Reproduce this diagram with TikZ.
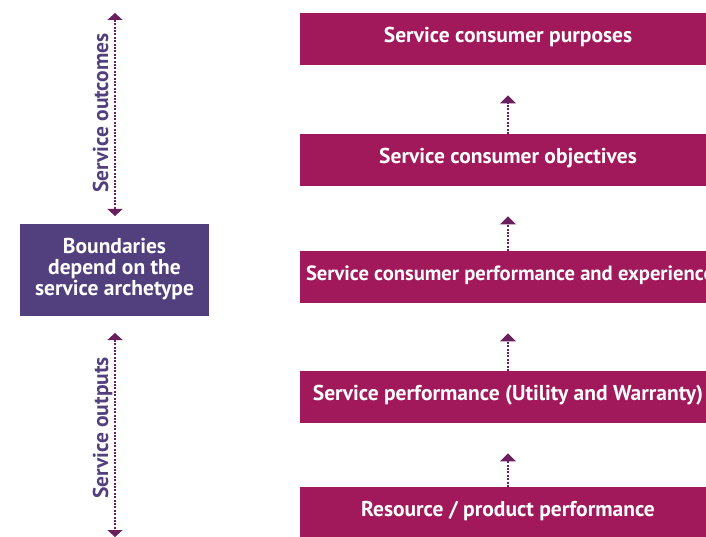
\documentclass[tikz,border=0pt]{standalone}
\usepackage{fontspec}
\setmainfont{PT Sans}
\usetikzlibrary{arrows.meta}
\definecolor{boxmag}{HTML}{A1195A}
\definecolor{boxpur}{HTML}{523F7D}
\definecolor{arrcol}{HTML}{6A1F5F}
\tikzset{
  layerbox/.style={fill=boxmag, draw=none, minimum width=417pt, minimum height=52pt, inner sep=0pt,
    text=white, font=\bfseries\fontsize{21.5}{22}\selectfont, text height=12pt, text depth=4.6pt, anchor=north},
  sidebox/.style={fill=boxpur, draw=none, minimum width=189pt, minimum height=92pt, inner sep=0pt,
    text=white, font=\bfseries\fontsize{21.5}{21}\selectfont, align=center},
  uparr/.style={arrcol, line width=1.1pt, dash pattern=on 2pt off 1.4pt, -{Triangle[width=16pt,length=8pt]}},
  bothsides/.style={arrcol, line width=1.1pt, dash pattern=on 2pt off 1.4pt, {Triangle[width=15pt,length=7pt]}-{Triangle[width=15pt,length=7pt]}},
  sidelabel/.style={text=boxpur, font=\bfseries\fontsize{21.5}{22}\selectfont, rotate=90, anchor=base, inner sep=0pt}
}
\begin{document}
\begin{tikzpicture}[x=1pt,y=-1pt]
\useasboundingbox (0,0) rectangle (706,537);
\clip (0,0) rectangle (706,537);
% layer boxes
\node[layerbox] (b1) at (508,13) {Service consumer purposes};
\node[layerbox] (b2) at (508,134) {Service consumer objectives};
\node[layerbox] (b3) at (508,251) {\makebox[404pt][l]{\fontsize{20.6}{22}\selectfont Service consumer performance and experience}};
\node[layerbox] (b4) at (508,371) {Service performance (Utility and Warranty)};
\node[layerbox] (b5) at (508,487) {Resource / product performance};
% up arrows
\draw[uparr] (b2.north) -- ([yshift=-30pt]b1.south);
\draw[uparr] (b3.north) -- ([yshift=-30pt]b2.south);
\draw[uparr] (b4.north) -- ([yshift=-30pt]b3.south);
\draw[uparr] (b5.north) -- ([yshift=-30pt]b4.south);
% side box
\node[sidebox] (sb) at (114.5,270) {\raisebox{-2pt}{\begin{tabular}{@{}c@{}}Boundaries\\depend on the\\service archetype\end{tabular}}};
\coordinate (ot) at (115,13);
\coordinate (ob) at (115,216);
\coordinate (pt) at (115,333);
\coordinate (pb) at (115,537);
\draw[bothsides] (ot) -- (ob);
\draw[bothsides] (pt) -- (pb);
\node[sidelabel] (lo) at (108,113) {Service outcomes};
\node[sidelabel] (lp) at (108,428) {Service outputs};
\end{tikzpicture}
\end{document}
